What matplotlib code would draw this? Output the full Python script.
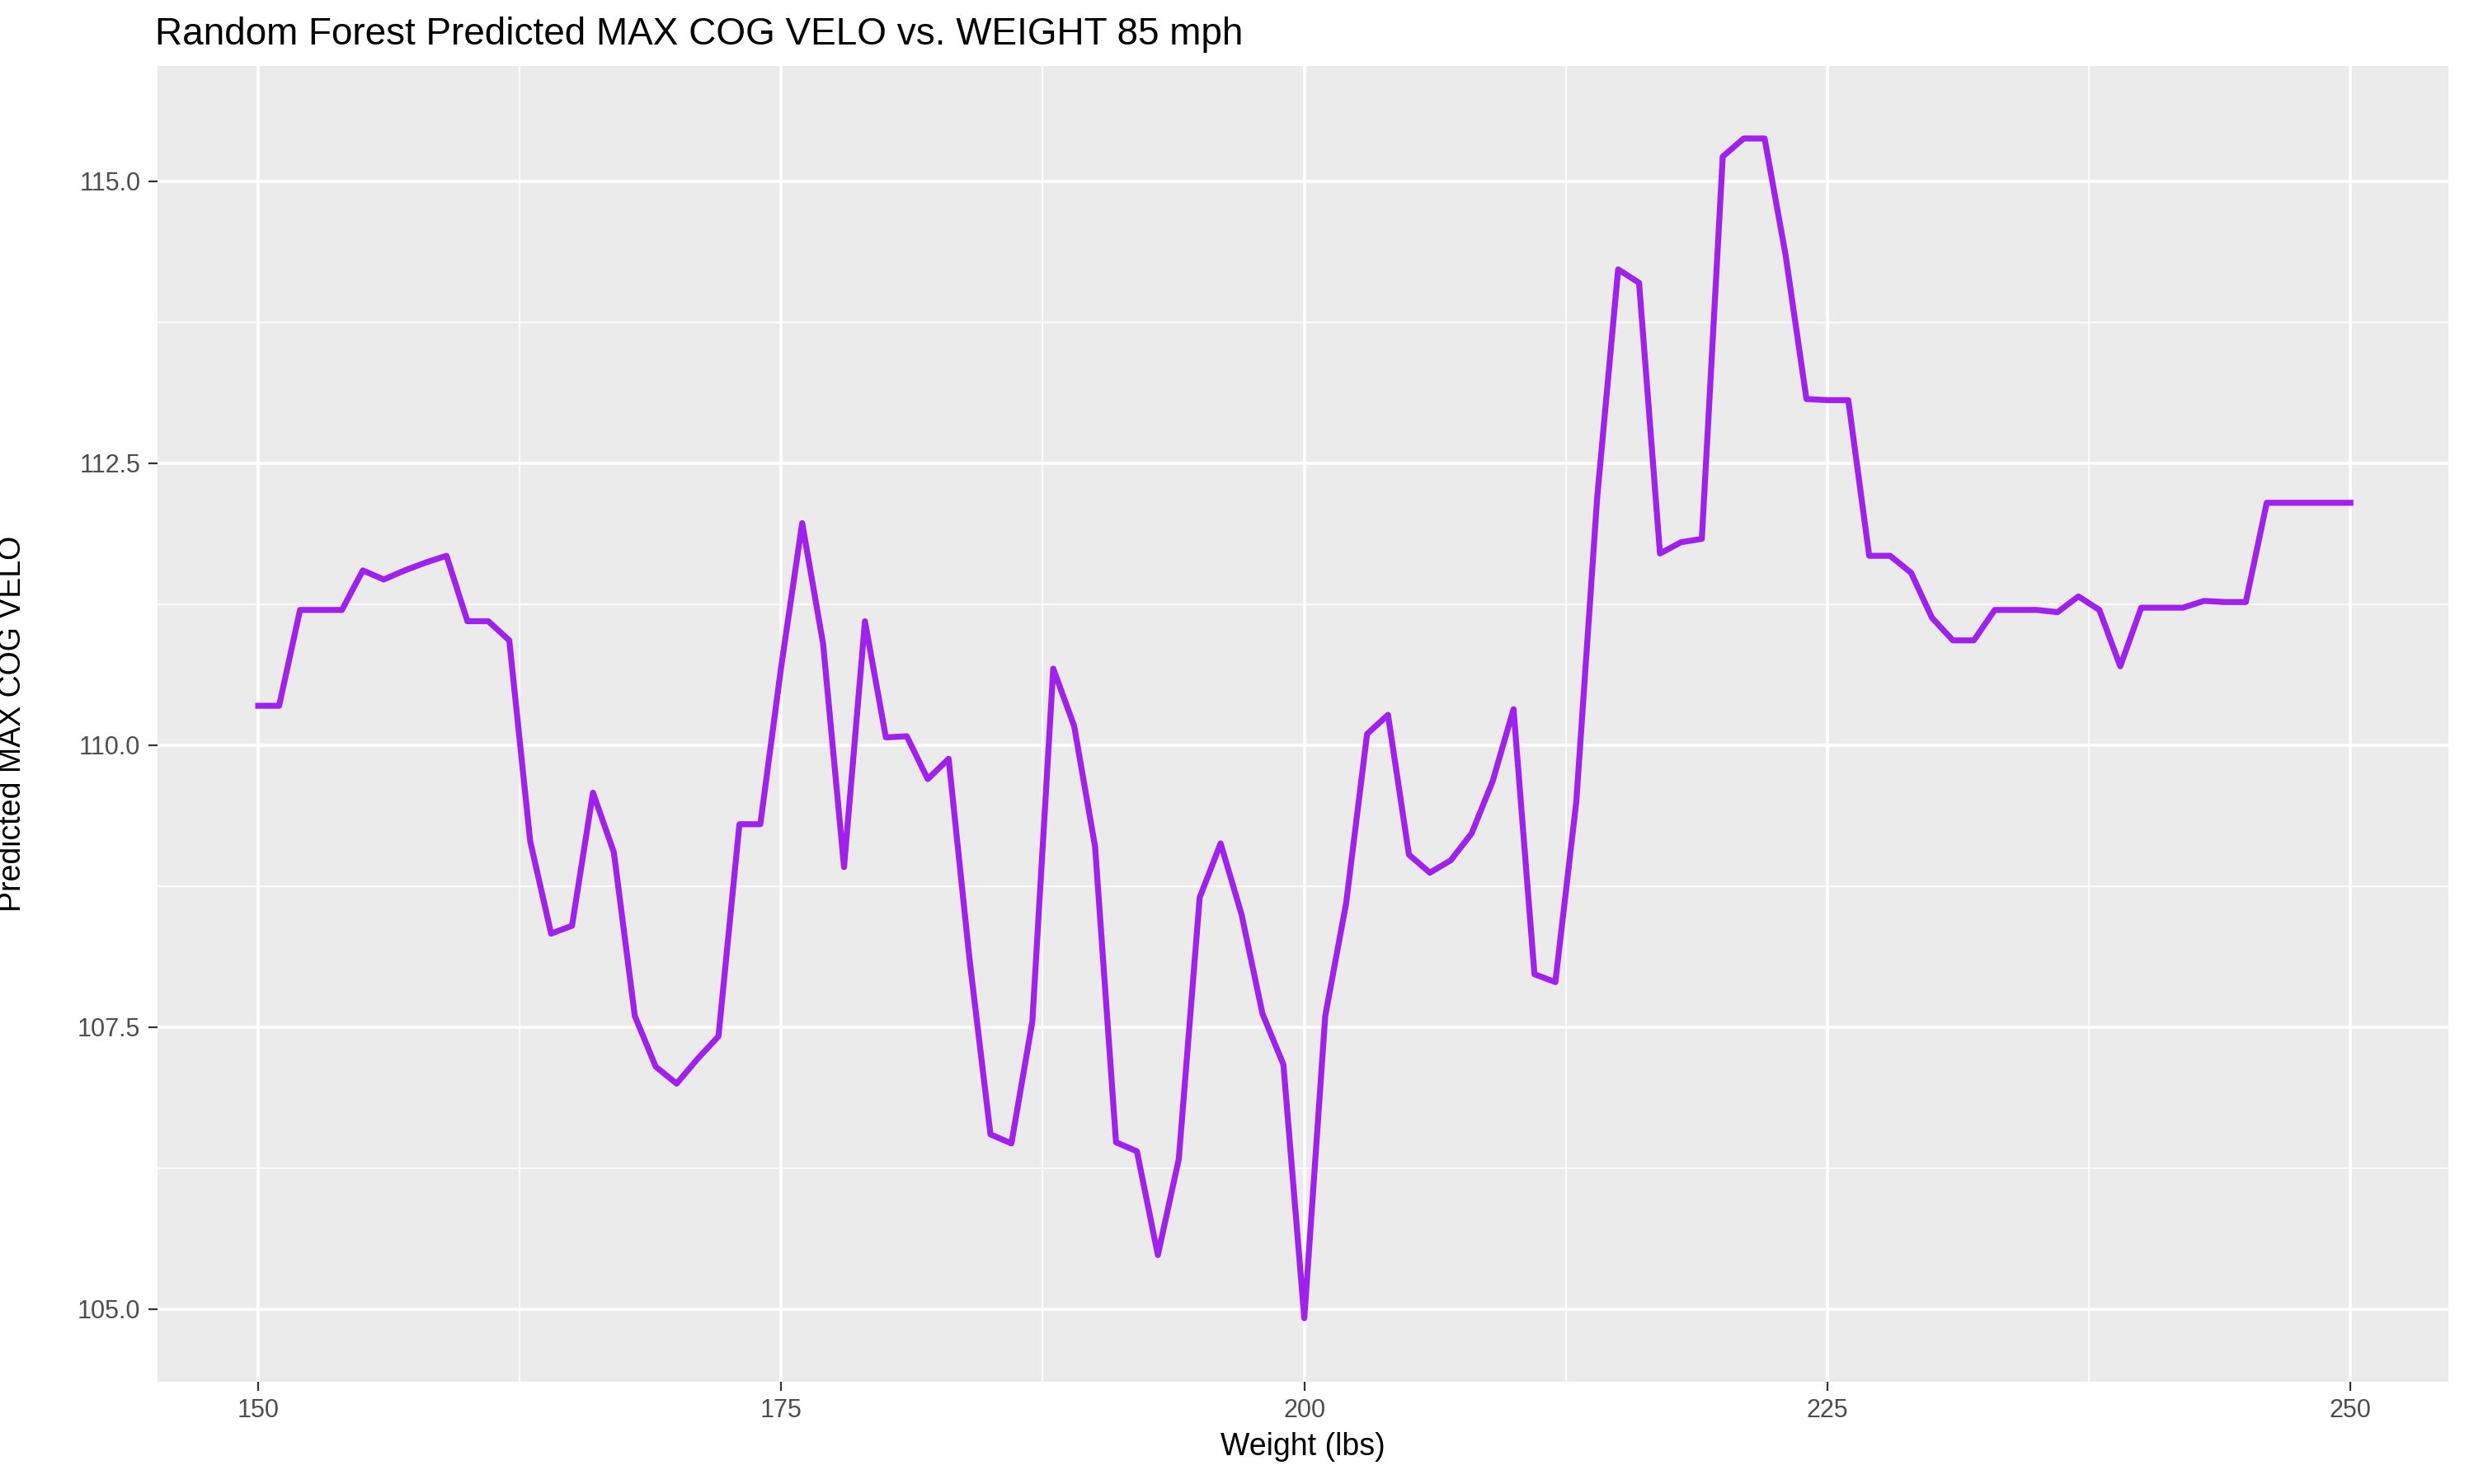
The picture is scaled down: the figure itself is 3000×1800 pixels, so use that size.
import matplotlib
matplotlib.use("Agg")
import matplotlib.pyplot as plt
import numpy as np

weights = list(range(150, 251))
pred = [110.35,110.35,111.2,111.2,111.2,111.55,111.47,111.55,111.62,111.68,
        111.1,111.1,110.93,109.15,108.33,108.4,109.58,109.05,107.6,107.15,
        107.0,107.22,107.42,109.3,109.3,110.7,111.97,110.9,108.92,111.1,
        110.07,110.08,109.7,109.88,108.1,106.55,106.47,107.55,110.68,110.17,
        109.1,106.48,106.4,105.48,106.33,108.65,109.13,108.5,107.62,107.17,
        104.92,107.6,108.6,110.1,110.27,109.03,108.87,108.98,109.22,109.68,
        110.32,107.97,107.9,109.5,112.2,114.22,114.1,111.7,111.8,111.83,
        115.22,115.38,115.38,114.35,113.07,113.06,113.06,111.68,111.68,111.53,
        111.13,110.93,110.93,111.2,111.2,111.2,111.18,111.32,111.2,110.7,
        111.22,111.22,111.22,111.28,111.27,111.27,112.15,112.15,112.15,112.15,112.15]
xticks = [150, 175, 200, 225, 250]
yticks = [105.0, 107.5, 110.0, 112.5, 115.0]

plt.rcParams['font.family'] = ['Liberation Sans', 'DejaVu Sans']
fig = plt.figure(figsize=(15, 9), dpi=200)
ax = fig.add_axes([100/1568, 1-875/940, 1452/1568, 833/940])
ax.set_facecolor('#EBEBEB')
ax.plot(weights, pred, color='#A020F0', lw=2.6, solid_joinstyle='round')
ax.set_xlim(145.2, 254.7)
ax.set_ylim(104.36, 116.02)
ax.set_xticks(xticks)
ax.set_xticks([162.5, 187.5, 212.5, 237.5], minor=True)
ax.set_yticks(yticks)
ax.set_yticklabels([f"{v:.1f}" for v in yticks])
ax.set_yticks([106.25, 108.75, 111.25, 113.75], minor=True)
ax.grid(which='major', color='white', lw=1.3)
ax.grid(which='minor', color='white', lw=0.6)
ax.set_axisbelow(True)
for s in ax.spines.values():
    s.set_visible(False)
ax.tick_params(which='both', length=4, color='#333333', labelsize=11, labelcolor='#4D4D4D')
ax.tick_params(which='minor', length=0)
ax.set_xlabel('Weight (lbs)', fontsize=13.5)
ax.set_ylabel('Predicted MAX COG VELO', fontsize=13.5)
ax.yaxis.set_label_coords(-0.057, 0.5)
fig.text(98/1568, 1-22/940, 'Random Forest Predicted MAX COG VELO vs. WEIGHT 85 mph', fontsize=16.5, va='center')
fig.savefig('out.png', dpi=200)
